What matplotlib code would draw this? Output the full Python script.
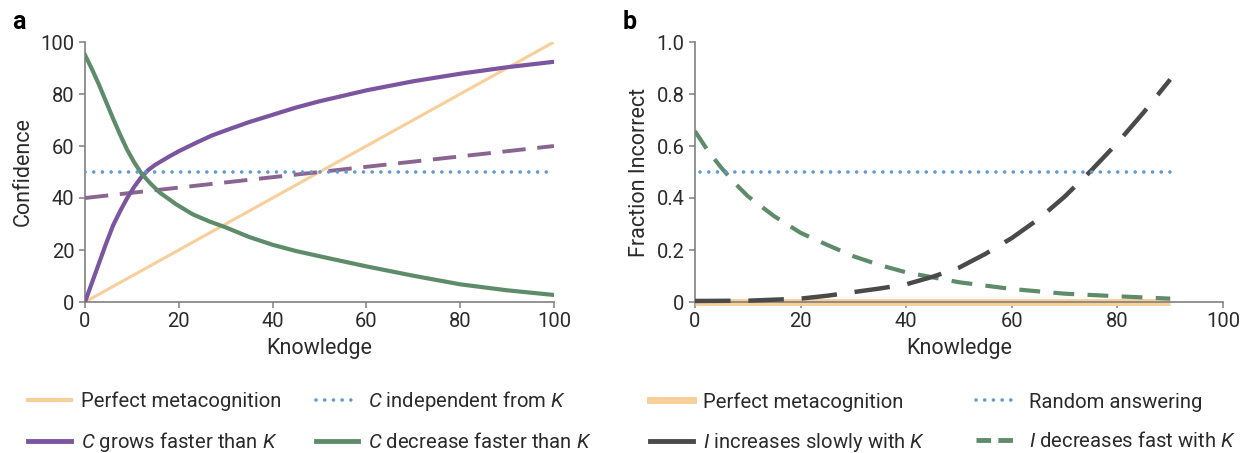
import matplotlib
matplotlib.use('Agg')
import matplotlib.pyplot as plt
from matplotlib.lines import Line2D

plt.rcParams['font.family'] = ['Roboto', 'DejaVu Sans']
plt.rcParams['font.size'] = 14
plt.rcParams['mathtext.fontset'] = 'custom'
plt.rcParams['mathtext.it'] = 'Roboto:italic'
plt.rcParams['mathtext.rm'] = 'Roboto'

# Panel a: confidence vs knowledge
k_perfect_a = [0, 100]
c_perfect_a = [0, 100]
k_indep = [0, 100]
c_indep = [50, 50]
k_grow = [0, 1.5, 3, 4.5, 6, 7.5, 9, 10.5, 12, 13.5, 15, 18, 20, 24, 27, 30, 35, 40, 45, 50, 60, 70, 80, 90, 100]
c_grow = [0, 7.5, 15, 22.5, 29.5, 35, 40, 44.3, 48, 50.8, 52.8, 56, 58, 61.5, 64, 66, 69.2, 72, 74.8, 77.2, 81.4, 84.9, 87.8, 90.3, 92.4]
k_grow_lin = [0, 100]
c_grow_lin = [40, 60]
k_decr = [0, 1.5, 3, 4.5, 6, 7.5, 9, 10.5, 12, 14, 16, 19.5, 23, 26.5, 30, 35, 40, 45, 50, 60, 70, 80, 90, 100]
c_decr = [95, 89.5, 83.5, 77, 70.5, 64.3, 58.5, 53.7, 49.5, 45.5, 42, 37.5, 33.7, 31, 28.7, 25, 22, 19.6, 17.6, 13.7, 10.1, 6.8, 4.5, 2.7]

# Panel b: fraction incorrect vs knowledge
k_perfect_b = [0, 90]
i_perfect_b = [0, 0]
k_random = [1, 90]
i_random = [0.5, 0.5]
k_slow = [0, 10, 20, 25, 30, 35, 40, 45, 50, 55, 60, 65, 70, 75, 80, 85, 90]
i_slow = [0.004, 0.005, 0.013, 0.024, 0.038, 0.052, 0.068, 0.097, 0.132, 0.185, 0.246, 0.318, 0.405, 0.505, 0.612, 0.73, 0.856]
k_fast = [0, 2.5, 5, 7.5, 10, 15, 20, 25, 30, 35, 40, 50, 60, 70, 80, 90]
i_fast = [0.657, 0.58, 0.516, 0.458, 0.407, 0.33, 0.266, 0.22, 0.176, 0.142, 0.114, 0.076, 0.05, 0.032, 0.022, 0.013]

ORANGE = '#F8CF9A'
BLUE = '#5F9AD2'
PURPLE = '#7B559F'
MAUVE = '#8A6592'
GREEN = '#5E8C6B'
GRAY = '#4A4A4A'
TEXT = '#2b2b2b'

W, H = 1249, 453
fig = plt.figure(figsize=(W / 100, H / 100), dpi=100)
ax_a = fig.add_axes([85 / W, 1 - 302 / H, (554 - 85) / W, 260 / H])
ax_b = fig.add_axes([695 / W, 1 - 302 / H, (1223 - 695) / W, 260 / H])


def style_axes(ax):
    for s in ['top', 'right']:
        ax.spines[s].set_visible(False)
    for s in ['left', 'bottom']:
        ax.spines[s].set_color('#808080')
        ax.spines[s].set_linewidth(1.2)
    ax.tick_params(direction='out', length=4.5, width=1.1, color='#808080',
                   labelcolor=TEXT, labelsize=14.5, pad=3)
    ax.set_xlim(0, 100)
    ax.set_xticks([0, 20, 40, 60, 80, 100])
    ax.set_xlabel('Knowledge', fontsize=15.5, color=TEXT, labelpad=5)


# --- panel a ---
ax_a.plot(k_perfect_a, c_perfect_a, color=ORANGE, lw=2.2, solid_capstyle='butt', zorder=2)
ax_a.plot(k_grow_lin, c_grow_lin, color=MAUVE, lw=2.8, dashes=(6, 3), zorder=3)
ax_a.plot(k_grow, c_grow, color=PURPLE, lw=3.0, zorder=4)
ax_a.plot(k_decr, c_decr, color=GREEN, lw=3.0, zorder=5)
ax_a.plot(k_indep, c_indep, color=BLUE, lw=2.6, linestyle=(0, (0.01, 2.4)),
          dash_capstyle='round', zorder=6)
style_axes(ax_a)
ax_a.set_ylim(0, 100)
ax_a.set_yticks([0, 20, 40, 60, 80, 100])
ax_a.set_ylabel('Confidence', fontsize=15.5, color=TEXT, labelpad=5)

# --- panel b ---
ax_b.plot(k_perfect_b, i_perfect_b, color=ORANGE, lw=5, solid_capstyle='butt', zorder=2, clip_on=False)
ax_b.plot(k_fast, i_fast, color=GREEN, lw=3.0, dashes=(5, 3.2), zorder=3)
ax_b.plot(k_slow, i_slow, color=GRAY, lw=3.2, dashes=(8, 4), zorder=4, clip_on=False)
ax_b.plot(k_random, i_random, color=BLUE, lw=2.6, linestyle=(0, (0.01, 2.4)),
          dash_capstyle='round', zorder=5)
style_axes(ax_b)
ax_b.set_ylim(0, 1.0)
ax_b.set_yticks([0, 0.2, 0.4, 0.6, 0.8, 1.0])
ax_b.set_yticklabels(['0', '0.2', '0.4', '0.6', '0.8', '1.0'])
ax_b.set_ylabel('Fraction Incorrect', fontsize=15.5, color=TEXT, labelpad=5)

fig.text(12 / W, 1 - 22 / H, 'a', fontsize=18, fontweight='bold', va='center', color='black')
fig.text(623 / W, 1 - 22 / H, 'b', fontsize=18, fontweight='bold', va='center', color='black')

# legends
dot_style = dict(color=BLUE, lw=2.6, linestyle=(0, (0.01, 2.4)), dash_capstyle='round')
handles_a = [
    Line2D([], [], color=ORANGE, lw=3),
    Line2D([], [], color=PURPLE, lw=3.5),
    Line2D([], [], **dot_style),
    Line2D([], [], color=GREEN, lw=3.5),
]
labels_a = ['Perfect metacognition', '$C$ grows faster than $K$',
            '$C$ independent from $K$', '$C$ decrease faster than $K$']
fig.legend(handles_a, labels_a, loc='upper left', bbox_to_anchor=(28 / W, 1 - 389 / H),
           ncol=2, frameon=False, fontsize=14.6, handlelength=2.1, handletextpad=0.5,
           columnspacing=1.7, labelspacing=0.95, borderpad=0, borderaxespad=0,
           labelcolor=TEXT)

handles_b = [
    Line2D([], [], color=ORANGE, lw=5),
    Line2D([], [], color=GRAY, lw=3.5),
    Line2D([], [], **dot_style),
    Line2D([], [], color=GREEN, lw=3.5, dashes=(3, 1.5)),
]
labels_b = ['Perfect metacognition', '$I$ increases slowly with $K$',
            'Random answering', '$I$ decreases fast with $K$']
fig.legend(handles_b, labels_b, loc='upper left', bbox_to_anchor=(650 / W, 1 - 392 / H),
           ncol=2, frameon=False, fontsize=14.6, handlelength=2.1, handletextpad=0.5,
           columnspacing=2.5, labelspacing=0.95, borderpad=0, borderaxespad=0,
           labelcolor=TEXT)

fig.savefig('out.png', dpi=100)
